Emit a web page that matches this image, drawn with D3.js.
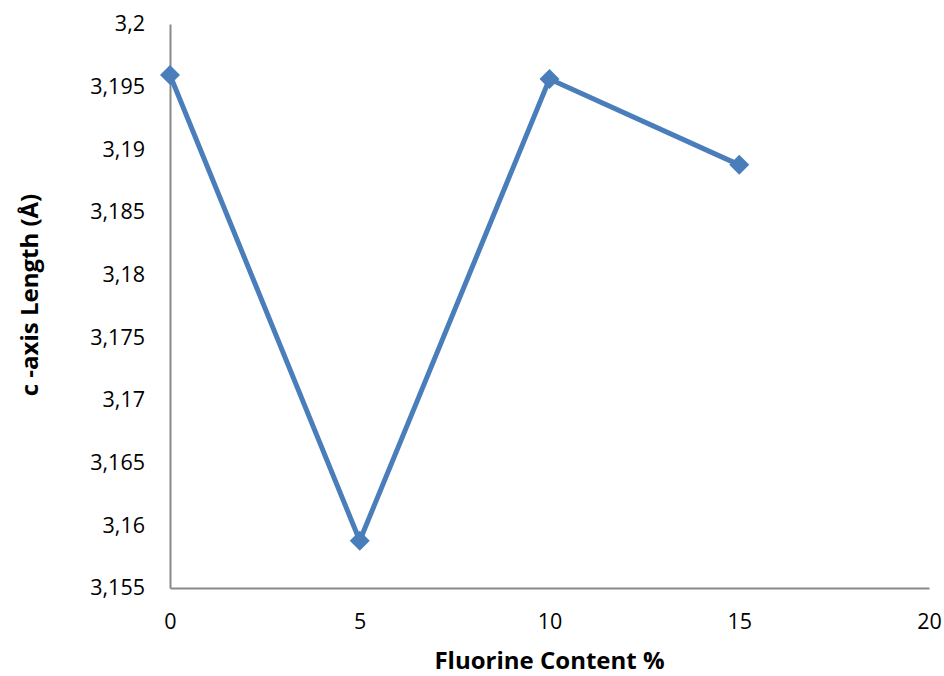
<!DOCTYPE html>
<html>
<head>
<meta charset="utf-8">
<script src="https://cdn.jsdelivr.net/npm/d3@7"></script>
<style>
  body { margin: 0; background: #fff; }
  text { font-family: "Open Sans", "Noto Sans", sans-serif; fill: #000; }
</style>
</head>
<body>
<svg id="chart" width="944" height="676"></svg>
<script>
// data
const fluorine = [0, 5, 10, 15];
const cAxis = [3.19593, 3.15877, 3.19561, 3.18876];
const xTicks = [0, 5, 10, 15, 20];
const yTicks = [3.155, 3.16, 3.165, 3.17, 3.175, 3.18, 3.185, 3.19, 3.195, 3.2];

let svg = d3.select("svg#chart");
let margin = { top: 24, right: 15, bottom: 88, left: 170 };
let chartWidth = 944 - margin.left - margin.right;
let chartHeight = 676 - margin.top - margin.bottom;

const xScale = d3.scaleLinear().domain([0, 20]).range([0, 759]);
const yScale = d3.scaleLinear().domain([3.155, 3.2]).range([chartHeight, 0]);

let g = svg.append("g")
    .attr("transform", "translate(" + margin.left + "," + margin.top + ")");

// X axis
let bottomAxis = d3.axisBottom(xScale).tickValues(xTicks).tickSize(0).tickPadding(26)
    .tickFormat(d3.format("d"));
g.append("g")
    .attr("class", "x axis")
    .attr("transform", "translate(0," + chartHeight + ")")
    .call(bottomAxis);

// Y axis
let leftAxis = d3.axisLeft(yScale).tickValues(yTicks).tickSize(0).tickPadding(25)
    .tickFormat(d => String(+d.toFixed(3)).replace(".", ","));
g.append("g")
    .attr("class", "y axis")
    .call(leftAxis);

g.selectAll(".axis path").attr("stroke", "#898989").attr("stroke-width", 2);
g.selectAll(".axis text").style("font-size", "21.5px").style("font-family", "Open Sans");

// line
let data = fluorine.map((f, i) => ({ x: f, y: cAxis[i] }));
let line = d3.line().x(d => xScale(d.x)).y(d => yScale(d.y));
g.append("path")
    .datum(data)
    .attr("fill", "none")
    .attr("stroke", "#4a7ebb")
    .attr("stroke-width", 5)
    .attr("stroke-linejoin", "round")
    .attr("d", line);

// diamond markers
g.selectAll("path.marker")
    .data(data)
    .enter().append("path")
    .attr("class", "marker")
    .attr("transform", d => "translate(" + xScale(d.x) + "," + yScale(d.y) + ")")
    .attr("d", "M0,-10L10,0L0,10L-10,0Z")
    .attr("fill", "#4a7ebb");

// axis titles
svg.append("text")
    .attr("x", margin.left + xScale(10))
    .attr("y", 669)
    .attr("text-anchor", "middle")
    .style("font-size", "24px")
    .style("font-weight", "bold")
    .text("Fluorine Content %");

svg.append("text")
    .attr("transform", "translate(38,295) rotate(-90)")
    .attr("text-anchor", "middle")
    .style("font-size", "24px")
    .style("font-weight", "bold")
    .text("c -axis Length (Å)");
</script>
</body>
</html>
